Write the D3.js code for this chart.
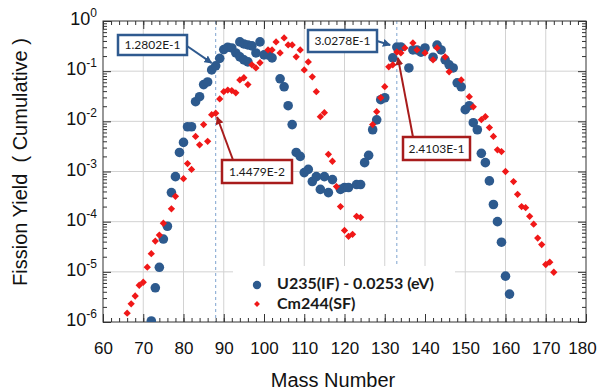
<!DOCTYPE html>
<html>
<head>
<meta charset="utf-8">
<script src="https://cdn.jsdelivr.net/npm/d3@7"></script>
<style>
  body { margin: 0; background: #fff; }
  svg { display: block; }
</style>
</head>
<body>
<svg id="chart" width="598" height="391"></svg>
<script>
// U235 thermal fission, cumulative yields
const u235Mass = [72, 73, 74, 75, 76, 77, 78, 79, 80, 81, 82, 83, 84, 85, 86, 87, 88, 89, 90, 91, 92, 93,
  94, 94, 95, 95, 96, 96, 97, 98, 99, 100, 101, 102, 104, 105, 106, 107, 108, 109, 110, 111, 112, 113, 114,
  115, 116, 117, 119, 120, 121, 123, 124, 125, 126, 127, 128, 129, 130, 132, 133, 134, 136, 137, 138, 139,
  140, 142, 143, 144, 145, 146, 147, 148, 149, 150, 151, 152, 153, 154, 155, 156, 157, 158, 159, 160, 161];
const u235Yield = [1.05e-6, 4.8e-6, 1.23e-5, 4.5e-5, 8.1e-5, 3.8e-4, 7.9e-4, 2.4e-3, 3.8e-3, 7.8e-3, 7.8e-3,
  2.46e-2, 3.1e-2, 5.4e-2, 6.1e-2, 0.106, 0.12802, 0.18, 0.27, 0.30, 0.29, 0.231,
  0.383, 0.193, 0.349, 0.168, 0.333, 0.153, 0.319, 0.231, 0.383, 0.211, 0.211, 0.184, 0.0704, 0.0488, 0.0205,
  8.6e-3, 2.4e-3, 2.0e-3, 9.5e-4, 1.1e-3, 6.3e-4, 7.9e-4, 4.4e-4,
  7.9e-4, 3.8e-4, 6.9e-4, 4.4e-4, 4.8e-4, 4.8e-4, 5.5e-4, 5.5e-4, 1.5e-3, 2.1e-3, 6.8e-3, 1.07e-2, 2.7e-2,
  2.95e-2, 0.184, 0.30278, 0.304, 0.116, 0.265, 0.265, 0.24,
  0.29, 0.19, 0.33, 0.265, 0.168, 0.134, 0.116, 0.0586, 0.0488, 0.0171, 0.0205, 9.4e-3, 6.8e-3, 2.3e-3,
  1.5e-3, 6.5e-4, 2.2e-4, 1.0e-4, 3.9e-5, 8.2e-6, 3.6e-6];

// Cm244 spontaneous fission
const cm244Mass = [66, 67, 68, 69, 70, 71, 72, 73, 74, 75, 77, 78, 80, 81, 82, 83, 84, 85, 86, 87, 88, 89,
  90, 91, 92, 93, 94, 95, 96, 97, 98, 99, 101, 102, 103, 104, 105, 106, 107, 108, 109, 110, 111, 112, 113,
  114, 115, 116, 117, 118, 119, 120, 121, 122, 123, 124, 127, 128, 129, 130, 131, 132, 133, 134, 135, 137,
  138, 140, 142, 143, 145, 146, 149, 151, 152, 154, 155, 156, 157, 158, 159, 160, 162, 163, 164, 165, 166,
  167, 168, 169, 170, 171, 172];
const cm244Yield = [1.5e-6, 2.3e-6, 3.3e-6, 5.4e-6, 6.2e-6, 1.24e-5, 2.3e-5, 4.1e-5, 5.4e-5, 9.3e-5, 1.8e-4,
  3.2e-4, 7.2e-4, 1.44e-3, 1.1e-3, 5.0e-3, 3.4e-3, 8.6e-3, 4.0e-3, 1.36e-2, 1.4479e-2, 2.8e-2,
  3.9e-2, 4.2e-2, 4.1e-2, 3.7e-2, 0.067, 0.074, 0.054, 0.134, 0.116, 0.147, 0.265, 0.265, 0.383, 0.231,
  0.459, 0.333, 0.333, 0.193, 0.265, 0.106, 0.153, 0.077, 0.039,
  0.0124, 0.0149, 2.2e-3, 1.6e-3, 5.0e-4, 2.0e-4, 6.7e-5, 5.1e-5, 5.6e-5, 1.28e-4, 1.22e-4, 8.6e-3, 1.56e-2,
  2.95e-2, 0.049, 0.122, 0.134, 0.24103, 0.231, 0.291, 0.366,
  0.265, 0.231, 0.168, 0.291, 0.193, 0.097, 0.067, 0.031, 0.0195, 0.0108, 0.0124, 7.5e-3, 5.0e-3, 2.7e-3,
  2.5e-3, 1.0e-3, 6.3e-4, 3.5e-4, 2.0e-4, 1.9e-4, 1.28e-4,
  8.9e-5, 4.7e-5, 3.5e-5, 1.4e-5, 1.56e-5, 9.8e-6];

const seriesNames = ['U235(IF) - 0.0253 (eV)', 'Cm244(SF)'];
const markedMass = [88, 133];
const noteLabels = ['1.2802E-1', '1.4479E-2', '3.0278E-1', '2.4103E-1'];
const xTicks = [60, 70, 80, 90, 100, 110, 120, 130, 140, 150, 160, 170, 180];
const yExponents = [-6, -5, -4, -3, -2, -1, 0];

const W = 598, H = 391;
const margin = { top: 21, right: 12, bottom: 69, left: 103 };
const width = W - margin.left - margin.right;
const height = H - margin.top - margin.bottom;

const blue = '#2d5a8e', red = '#f01818';
const noteBlue = '#2f5a8f', noteRed = '#a81c1c';

const svg = d3.select('#chart');
const g = svg.append('g').attr('transform', `translate(${margin.left},${margin.top})`);

const x = d3.scaleLinear().domain([60, 180]).range([0, width]);
const y = d3.scaleLog().domain([1e-6, 1]).range([height, 0]);

const yMajor = yExponents.map(e => Math.pow(10, e));
const yMinor = [];
yExponents.slice(0, -1).forEach(e => { for (let m = 2; m < 10; m++) yMinor.push(m * Math.pow(10, e)); });
const xMinor = d3.range(60, 181, 2);

// grid
g.append('g').selectAll('line').data(xTicks.slice(1, -1)).join('line')
  .attr('x1', d => x(d)).attr('x2', d => x(d)).attr('y1', 0).attr('y2', height)
  .attr('stroke', '#d2d2d2');
g.append('g').selectAll('line').data(yMajor.slice(1, -1)).join('line')
  .attr('x1', 0).attr('x2', width).attr('y1', d => y(d)).attr('y2', d => y(d))
  .attr('stroke', '#d2d2d2');

// dashed markers at the two peaks
g.append('g').selectAll('line').data(markedMass).join('line')
  .attr('x1', d => x(d)).attr('x2', d => x(d)).attr('y1', 0).attr('y2', height)
  .attr('stroke', '#7ea3cf').attr('stroke-dasharray', '3,3');

// legend background
const legend = g.append('g').attr('transform', 'translate(130,245)');
legend.append('rect').attr('width', 222).attr('height', 55).attr('fill', '#fff');

// axes (ticks inward)
function styleAxis(sel) {
  sel.select('.domain').remove();
  sel.selectAll('.tick line').attr('stroke', '#333');
}
g.append('g').attr('transform', `translate(0,${height})`)
  .call(d3.axisBottom(x).tickValues(xMinor).tickSize(-4).tickFormat(''))
  .call(styleAxis);
g.append('g').attr('transform', `translate(0,${height})`)
  .call(d3.axisBottom(x).tickValues(xTicks).tickSize(-8).tickPadding(20).tickFormat(d3.format('d')))
  .call(styleAxis)
  .selectAll('text').attr('font-family', '"Liberation Sans", Arial, sans-serif')
  .attr('font-size', 17).attr('fill', '#111')
  .attr('dx', d => d === 180 ? -4 : 0);
g.append('g').call(d3.axisTop(x).tickValues(xMinor).tickSize(-4).tickFormat('')).call(styleAxis);
g.append('g').call(d3.axisTop(x).tickValues(xTicks).tickSize(-8).tickFormat('')).call(styleAxis);

g.append('g').call(d3.axisLeft(y).tickValues(yMinor).tickSize(-4).tickFormat('')).call(styleAxis);
const yAxis = g.append('g')
  .call(d3.axisLeft(y).tickValues(yMajor).tickSize(-8).tickPadding(6).tickFormat(''))
  .call(styleAxis);
g.append('g').attr('transform', `translate(${width},0)`)
  .call(d3.axisRight(y).tickValues(yMinor).tickSize(-4).tickFormat('')).call(styleAxis);
g.append('g').attr('transform', `translate(${width},0)`)
  .call(d3.axisRight(y).tickValues(yMajor).tickSize(-8).tickFormat('')).call(styleAxis);

// y labels as 10^n
yAxis.selectAll('.tick text')
  .attr('font-family', '"Liberation Sans", Arial, sans-serif').attr('fill', '#111')
  .attr('x', -6).attr('dy', '0.35em').attr('text-anchor', 'end')
  .each(function (d) {
    const t = d3.select(this);
    t.append('tspan').attr('font-size', 18).text('10');
    t.append('tspan').attr('font-size', 12).attr('dy', -8).text(Math.round(Math.log10(d)));
  });

// frame
g.append('rect').attr('width', width).attr('height', height)
  .attr('fill', 'none').attr('stroke', '#333');

// data
svg.append('clipPath').attr('id', 'plotclip').append('rect')
  .attr('width', width).attr('height', height);
const data = g.append('g').attr('clip-path', 'url(#plotclip)');

data.append('g').selectAll('circle').data(u235Mass).join('circle')
  .attr('cx', d => x(d)).attr('cy', (d, i) => y(u235Yield[i])).attr('r', 4.8)
  .attr('fill', blue);

const diamond = d3.symbol().type(d3.symbolDiamond2).size(34);
data.append('g').selectAll('path').data(cm244Mass).join('path')
  .attr('transform', (d, i) => `translate(${x(d)},${y(cm244Yield[i])})`)
  .attr('d', diamond).attr('fill', red);

// legend entries
legend.append('circle').attr('cx', 24).attr('cy', 19).attr('r', 4.2).attr('fill', blue);
legend.append('path').attr('transform', 'translate(24,38)')
  .attr('d', d3.symbol().type(d3.symbolDiamond2).size(22)).attr('fill', red);
legend.selectAll('text').data(seriesNames).join('text')
  .attr('x', 44).attr('y', (d, i) => 23 + i * 20)
  .attr('font-family', 'Lato, "Open Sans", sans-serif').attr('font-weight', 700)
  .attr('font-size', 16).attr('fill', '#1a1a1a').text(d => d);

// annotations
const defs = svg.append('defs');
[['ahBlue', noteBlue], ['ahRed', noteRed]].forEach(([id, c]) => {
  defs.append('marker').attr('id', id).attr('viewBox', '0 0 10 10')
    .attr('refX', 9).attr('refY', 5).attr('markerWidth', 8).attr('markerHeight', 8)
    .attr('markerUnits', 'userSpaceOnUse').attr('orient', 'auto')
    .append('path').attr('d', 'M0,0L10,5L0,10z').attr('fill', c);
});

function yieldAt(masses, yields, m) { return yields[masses.indexOf(m)]; }
const notes = [
  { m: markedMass[0], v: yieldAt(u235Mass, u235Yield, markedMass[0]), box: [15, 14, 69, 20], from: [84, 25], c: noteBlue, head: 'ahBlue', r: 5 },
  { m: markedMass[0], v: yieldAt(cm244Mass, cm244Yield, markedMass[0]), box: [119, 139, 70, 23], from: [130, 139], c: noteRed, head: 'ahRed', r: 4 },
  { m: markedMass[1], v: yieldAt(u235Mass, u235Yield, markedMass[1]), box: [205, 9, 69, 22], from: [274, 20], c: noteBlue, head: 'ahBlue', r: 7 },
  { m: markedMass[1], v: yieldAt(cm244Mass, cm244Yield, markedMass[1]), box: [300, 116, 67, 23], from: [310, 116], c: noteRed, head: 'ahRed', r: 6 }
];
const noteG = g.append('g');
notes.forEach((n, i) => {
  const px = x(n.m), py = y(n.v);
  const dx = px - n.from[0], dy = py - n.from[1], len = Math.hypot(dx, dy);
  noteG.append('line')
    .attr('x1', n.from[0]).attr('y1', n.from[1])
    .attr('x2', px - dx / len * n.r).attr('y2', py - dy / len * n.r)
    .attr('stroke', n.c).attr('stroke-width', 2).attr('marker-end', `url(#${n.head})`);
  noteG.append('rect').attr('x', n.box[0]).attr('y', n.box[1])
    .attr('width', n.box[2]).attr('height', n.box[3])
    .attr('fill', '#fff').attr('stroke', n.c).attr('stroke-width', 2.5);
  noteG.append('text').attr('x', n.box[0] + n.box[2] / 2).attr('y', n.box[1] + n.box[3] / 2)
    .attr('dy', '0.35em').attr('text-anchor', 'middle')
    .attr('font-family', 'Lato, "Open Sans", sans-serif').attr('font-size', 12)
    .attr('fill', '#1a1a1a').text(noteLabels[i]);
});

// axis titles
svg.append('text').attr('x', 333).attr('y', 387).attr('text-anchor', 'middle')
  .attr('font-family', '"Liberation Sans", Arial, sans-serif').attr('font-size', 20)
  .attr('fill', '#111').text('Mass Number');
svg.append('text').attr('transform', 'translate(27,162) rotate(-90)').attr('text-anchor', 'middle')
  .attr('font-family', '"Liberation Sans", Arial, sans-serif').attr('font-size', 20)
  .attr('fill', '#111').attr('xml:space', 'preserve').text('Fission Yield  ( Cumulative )');
</script>
</body>
</html>
